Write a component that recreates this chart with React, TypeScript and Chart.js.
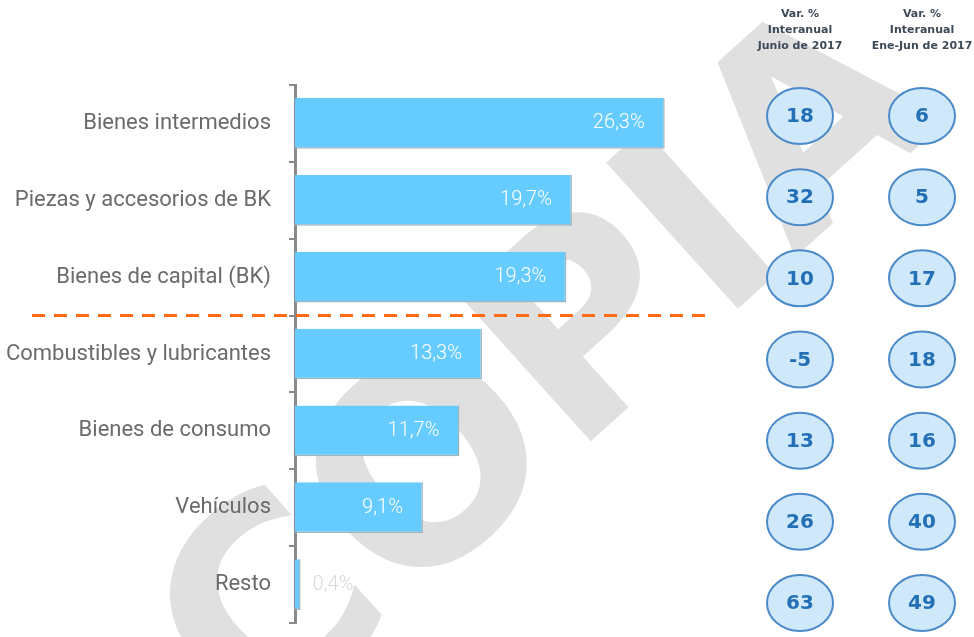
import React, { useEffect, useRef } from "react";
import { Chart, registerables } from "chart.js";

Chart.register(...registerables);

const categories = [
  "Bienes intermedios",
  "Piezas y accesorios de BK",
  "Bienes de capital (BK)",
  "Combustibles y lubricantes",
  "Bienes de consumo",
  "Vehículos",
  "Resto",
];
const shares = [26.3, 19.7, 19.3, 13.3, 11.7, 9.1, 0.4];
const shareLabels = ["26,3%", "19,7%", "19,3%", "13,3%", "11,7%", "9,1%", "0,4%"];
const varJunio = [18, 32, 10, -5, 13, 26, 63];
const varEneJun = [6, 5, 17, 18, 16, 40, 49];
const headerJunio = ["Var. %", "Interanual", "Junio de 2017"];
const headerEneJun = ["Var. %", "Interanual", "Ene-Jun de 2017"];
const separatorAfterIndex = 2;
const watermarkText = "COPIA";

const zeroPad = (s: any) => {
  s.paddingTop = 0;
  s.paddingBottom = 0;
  s.paddingLeft = 0;
  s.paddingRight = 0;
};

const overlayPlugin = {
  id: "overlay",
  beforeDraw(chart: any) {
    const ctx = chart.ctx;
    ctx.save();
    ctx.fillStyle = "#ffffff";
    ctx.fillRect(0, 0, chart.width, chart.height);
    ctx.translate(555, 379);
    ctx.rotate((-42 * Math.PI) / 180);
    ctx.font = "bold 270px 'DejaVu Sans'";
    ctx.fillStyle = "#e0e0e0";
    ctx.textAlign = "center";
    ctx.textBaseline = "middle";
    ctx.fillText(watermarkText, 0, 0);
    ctx.restore();
  },
  afterDatasetsDraw(chart: any) {
    const ctx = chart.ctx;
    ctx.save();
    // bar value labels
    const barMeta = chart.getDatasetMeta(0);
    ctx.textBaseline = "middle";
    ctx.font = "300 20px Roboto";
    barMeta.data.forEach((bar: any, i: number) => {
      const w = bar.x - bar.base;
      if (w > 60) {
        ctx.fillStyle = "#ffffff";
        ctx.textAlign = "right";
        ctx.fillText(shareLabels[i], bar.x - 20, bar.y);
      } else {
        ctx.fillStyle = "#d8d8d8";
        ctx.textAlign = "left";
        ctx.fillText(shareLabels[i], bar.x + 12, bar.y);
      }
    });
    // dashed separator
    const ys = chart.scales.y;
    const xs = chart.scales.x;
    const py =
      (ys.getPixelForValue(separatorAfterIndex) + ys.getPixelForValue(separatorAfterIndex + 1)) / 2;
    ctx.strokeStyle = "#ff6a13";
    ctx.lineWidth = 3;
    ctx.setLineDash([13, 9]);
    ctx.beginPath();
    ctx.moveTo(32, py);
    ctx.lineTo(xs.getPixelForValue(29.6), py);
    ctx.stroke();
    ctx.setLineDash([]);
    // circles
    [1, 2].forEach((di) => {
      const meta = chart.getDatasetMeta(di);
      const values = di === 1 ? varJunio : varEneJun;
      meta.data.forEach((pt: any, i: number) => {
        ctx.beginPath();
        ctx.ellipse(pt.x, pt.y, 33, 28, 0, 0, Math.PI * 2);
        ctx.fillStyle = "#cfe9fb";
        ctx.fill();
        ctx.strokeStyle = "#4a8ac8";
        ctx.lineWidth = 2;
        ctx.stroke();
        ctx.fillStyle = "#2470b6";
        ctx.font = "bold 20px 'DejaVu Sans'";
        ctx.textAlign = "center";
        ctx.textBaseline = "middle";
        ctx.fillText(String(values[i]), pt.x, pt.y + 1);
      });
    });
    // headers
    const xc = chart.scales.xc;
    const headers = [headerJunio, headerEneJun];
    ctx.font = "bold 11px 'DejaVu Sans'";
    ctx.fillStyle = "#3d4a57";
    ctx.textAlign = "center";
    ctx.textBaseline = "middle";
    headers.forEach((lines, c) => {
      let cx = xc.getPixelForValue(c);
      const maxW = Math.max(...lines.map((l) => ctx.measureText(l).width));
      if (cx + maxW / 2 > chart.width - 1) cx = chart.width - 1 - maxW / 2;
      lines.forEach((l, j) => {
        ctx.fillText(l, cx, 14 + j * 16);
      });
    });
    ctx.restore();
  },
};

export default function App() {
  const ref = useRef<HTMLCanvasElement | null>(null);
  useEffect(() => {
    if (!ref.current) return;
    const chart = new Chart(ref.current, {
      type: "bar",
      data: {
        labels: categories,
        datasets: [
          {
            type: "bar",
            data: shares,
            backgroundColor: "#66ccff",
            borderColor: "#a3b4bd",
            borderWidth: { top: 0, left: 0, right: 1.5, bottom: 1.5 },
            borderSkipped: false,
            grouped: false,
            categoryPercentage: 1,
            barPercentage: 0.66,
            xAxisID: "x",
            yAxisID: "y",
          },
          {
            type: "scatter",
            indexAxis: "x",
            data: varJunio.map((_, i) => ({ x: 0, y: i })),
            pointRadius: 0,
            xAxisID: "xc",
            yAxisID: "yc",
          },
          {
            type: "scatter",
            indexAxis: "x",
            data: varEneJun.map((_, i) => ({ x: 1, y: i })),
            pointRadius: 0,
            xAxisID: "xc",
            yAxisID: "yc",
          },
        ] as any,
      },
      options: {
        indexAxis: "y",
        animation: false,
        responsive: false,
        layout: { padding: { top: 85, bottom: 14, left: 0, right: 0 } },
        plugins: { legend: { display: false }, tooltip: { enabled: false } },
        scales: {
          x: { type: "linear", min: 0, max: 48.3, display: false, offset: false, afterFit: zeroPad },
          y: {
            type: "category",
            position: "left",
            offset: true,
            grid: {
              offset: true,
              drawOnChartArea: false,
              drawTicks: true,
              tickLength: 6,
              color: "#8a8a8a",
              lineWidth: 2,
            },
            border: { display: true, color: "#8a8a8a", width: 3 },
            ticks: {
              color: "#6b6b6b",
              font: { family: "Roboto", size: 22 },
              padding: 18,
              crossAlign: "near",
            },
            afterFit: (s: any) => {
              s.width = 295;
              zeroPad(s);
            },
          },
          xc: {
            type: "linear",
            min: -4.139,
            max: 1.426,
            offset: false,
            display: false,
            ticks: { display: false },
            afterFit: zeroPad,
          },
          yc: {
            type: "linear",
            position: "right",
            min: -0.382,
            max: 6.247,
            offset: false,
            grid: { offset: false },
            reverse: true,
            display: false,
            ticks: { display: false },
            afterFit: zeroPad,
          },
        } as any,
      },
      plugins: [overlayPlugin],
    } as any);
    return () => chart.destroy();
  }, []);
  return (
    <div style={{ position: "absolute", left: 0, top: 0, width: 974, height: 637 }}>
      <canvas ref={ref} width={974} height={637} />
    </div>
  );
}
